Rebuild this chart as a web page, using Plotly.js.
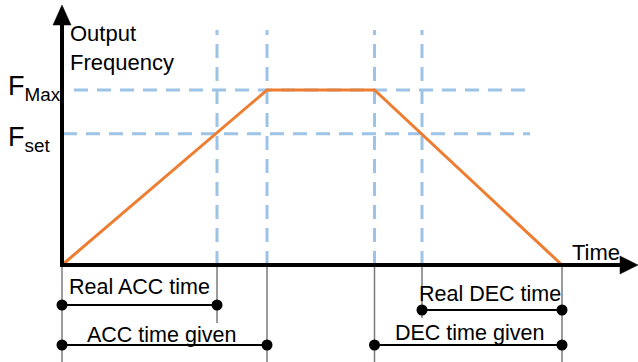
<!DOCTYPE html>
<html>
<head>
<meta charset="utf-8">
<script src="https://cdn.plot.ly/plotly-3.0.1.min.js"></script>
<style>html,body{margin:0;padding:0;background:#fff;}#chart{width:638px;height:362px;}</style>
</head>
<body>
<div id="chart"></div>
<script>
// ---- data (time in s-like units, frequency in % of F_Max) ----
const profileTime = [0, 4.1, 6.25, 10.0];
const profileFreq = [0, 100, 100, 0];
const guideTimes = [3.1, 4.1, 6.25, 7.2];
const levelNames = ['F<sub>Max</sub>', 'F<sub>set</sub>'];
const levelValues = [100, 75];
const spanLabels = ['Real ACC time', 'ACC time given', 'Real DEC time', 'DEC time given'];
const spanStart = [0, 0, 7.2, 6.25];
const spanEnd = [3.1, 4.1, 10.0, 10.0];
const axisLabels = ['Output<br>Frequency', 'Time'];

// ---- layout helpers: pixel -> data ----
const W = 638, H = 362, X0 = 62, Y0 = 265, PXT = 50, PXF = 1.75;
const tx = px => (px - X0) / PXT;
const fy = py => (Y0 - py) / PXF;

const FONT = 'Liberation Sans, Arial, sans-serif';
const guideColor = '#9DC3E6';
const guideDash = '14px,9px';

const shapes = [];
// vertical dashed guides
guideTimes.forEach(t => {
  shapes.push({type: 'line', xref: 'x', yref: 'y', x0: t, x1: t, y0: 0, y1: fy(30),
    line: {color: guideColor, width: 3, dash: guideDash}, layer: 'below'});
});
// horizontal dashed guides
const levelStartPx = [74, 63];
levelValues.forEach((v, i) => {
  shapes.push({type: 'line', xref: 'x', yref: 'y', x0: tx(levelStartPx[i]), x1: tx(530), y0: v, y1: v,
    line: {color: guideColor, width: 3, dash: guideDash}, layer: 'below'});
});
// gray drop lines below the time axis
const dropTimes = [0, 3.1, 4.1, 6.25, 7.2, 10.0];
const dropEndPx = [H, 323, H, H, 318, H];
dropTimes.forEach((t, i) => {
  shapes.push({type: 'line', xref: 'x', yref: 'y', x0: t, x1: t, y0: 0, y1: fy(dropEndPx[i]),
    line: {color: '#7a7a7a', width: 1.5}, layer: 'below'});
});
// axes (drawn above traces)
shapes.push({type: 'line', xref: 'x', yref: 'y', x0: 0, x1: 0, y0: fy(Y0 + 2), y1: fy(22),
  line: {color: '#000', width: 4}, layer: 'above'});
shapes.push({type: 'line', xref: 'x', yref: 'y', x0: tx(X0 - 2), x1: tx(622), y0: 0, y1: 0,
  line: {color: '#000', width: 4}, layer: 'above'});
// arrowheads
shapes.push({type: 'path', xref: 'x', yref: 'y',
  path: `M ${tx(X0 - 9)} ${fy(25)} L ${tx(X0)} ${fy(5)} L ${tx(X0 + 9)} ${fy(25)} Z`,
  fillcolor: '#000', line: {color: '#000', width: 0.5}, layer: 'above'});
shapes.push({type: 'path', xref: 'x', yref: 'y',
  path: `M ${tx(620)} ${fy(Y0 - 9)} L ${tx(638)} ${fy(Y0)} L ${tx(620)} ${fy(Y0 + 9)} Z`,
  fillcolor: '#000', line: {color: '#000', width: 0.5}, layer: 'above'});

const traces = [];
// spans (brackets)
const spanRowPx = [305, 345, 310, 345];
spanLabels.forEach((lab, i) => {
  traces.push({type: 'scatter', mode: 'lines+markers', x: [spanStart[i], spanEnd[i]],
    y: [fy(spanRowPx[i]), fy(spanRowPx[i])], line: {color: '#000', width: 2},
    marker: {color: '#000', size: 11}, hoverinfo: 'skip', showlegend: false, cliponaxis: false});
});
// frequency profile
traces.push({type: 'scatter', mode: 'lines', x: profileTime, y: profileFreq,
  line: {color: '#ED7D31', width: 3}, hoverinfo: 'skip', showlegend: false});

const annotations = [];
// axis labels
annotations.push({x: tx(68), y: fy(19), xref: 'x', yref: 'y', xanchor: 'left', yanchor: 'top', align: 'left',
  text: axisLabels[0], showarrow: false, font: {family: FONT, size: 22, color: '#000'}});
annotations.push({x: tx(596), y: fy(252), xref: 'x', yref: 'y', xanchor: 'center', yanchor: 'middle',
  text: axisLabels[1], showarrow: false, font: {family: FONT, size: 22, color: '#000'}});
// level labels
const levelLabelPx = [88, 139];
levelNames.forEach((n, i) => {
  annotations.push({x: tx(6), y: fy(levelLabelPx[i]), xref: 'x', yref: 'y', xanchor: 'left', yanchor: 'middle',
    text: n, showarrow: false, font: {family: FONT, size: 27, color: '#000'}});
});
// span labels
const spanLabelPx = [[139, 287], [161, 335], [490, 294], [469, 333]];
spanLabels.forEach((lab, i) => {
  annotations.push({x: tx(spanLabelPx[i][0]), y: fy(spanLabelPx[i][1]), xref: 'x', yref: 'y',
    xanchor: 'center', yanchor: 'middle', text: lab, showarrow: false,
    font: {family: FONT, size: 21.5, color: '#000'}});
});

const layout = {
  width: W, height: H, margin: {l: 0, r: 0, t: 0, b: 0},
  paper_bgcolor: '#fff', plot_bgcolor: '#fff',
  xaxis: {range: [tx(0), tx(W)], visible: false, fixedrange: true},
  yaxis: {range: [fy(H), fy(0)], visible: false, fixedrange: true},
  shapes: shapes, annotations: annotations, showlegend: false
};
Plotly.newPlot('chart', traces, layout, {staticPlot: true, displayModeBar: false});
</script>
</body>
</html>
